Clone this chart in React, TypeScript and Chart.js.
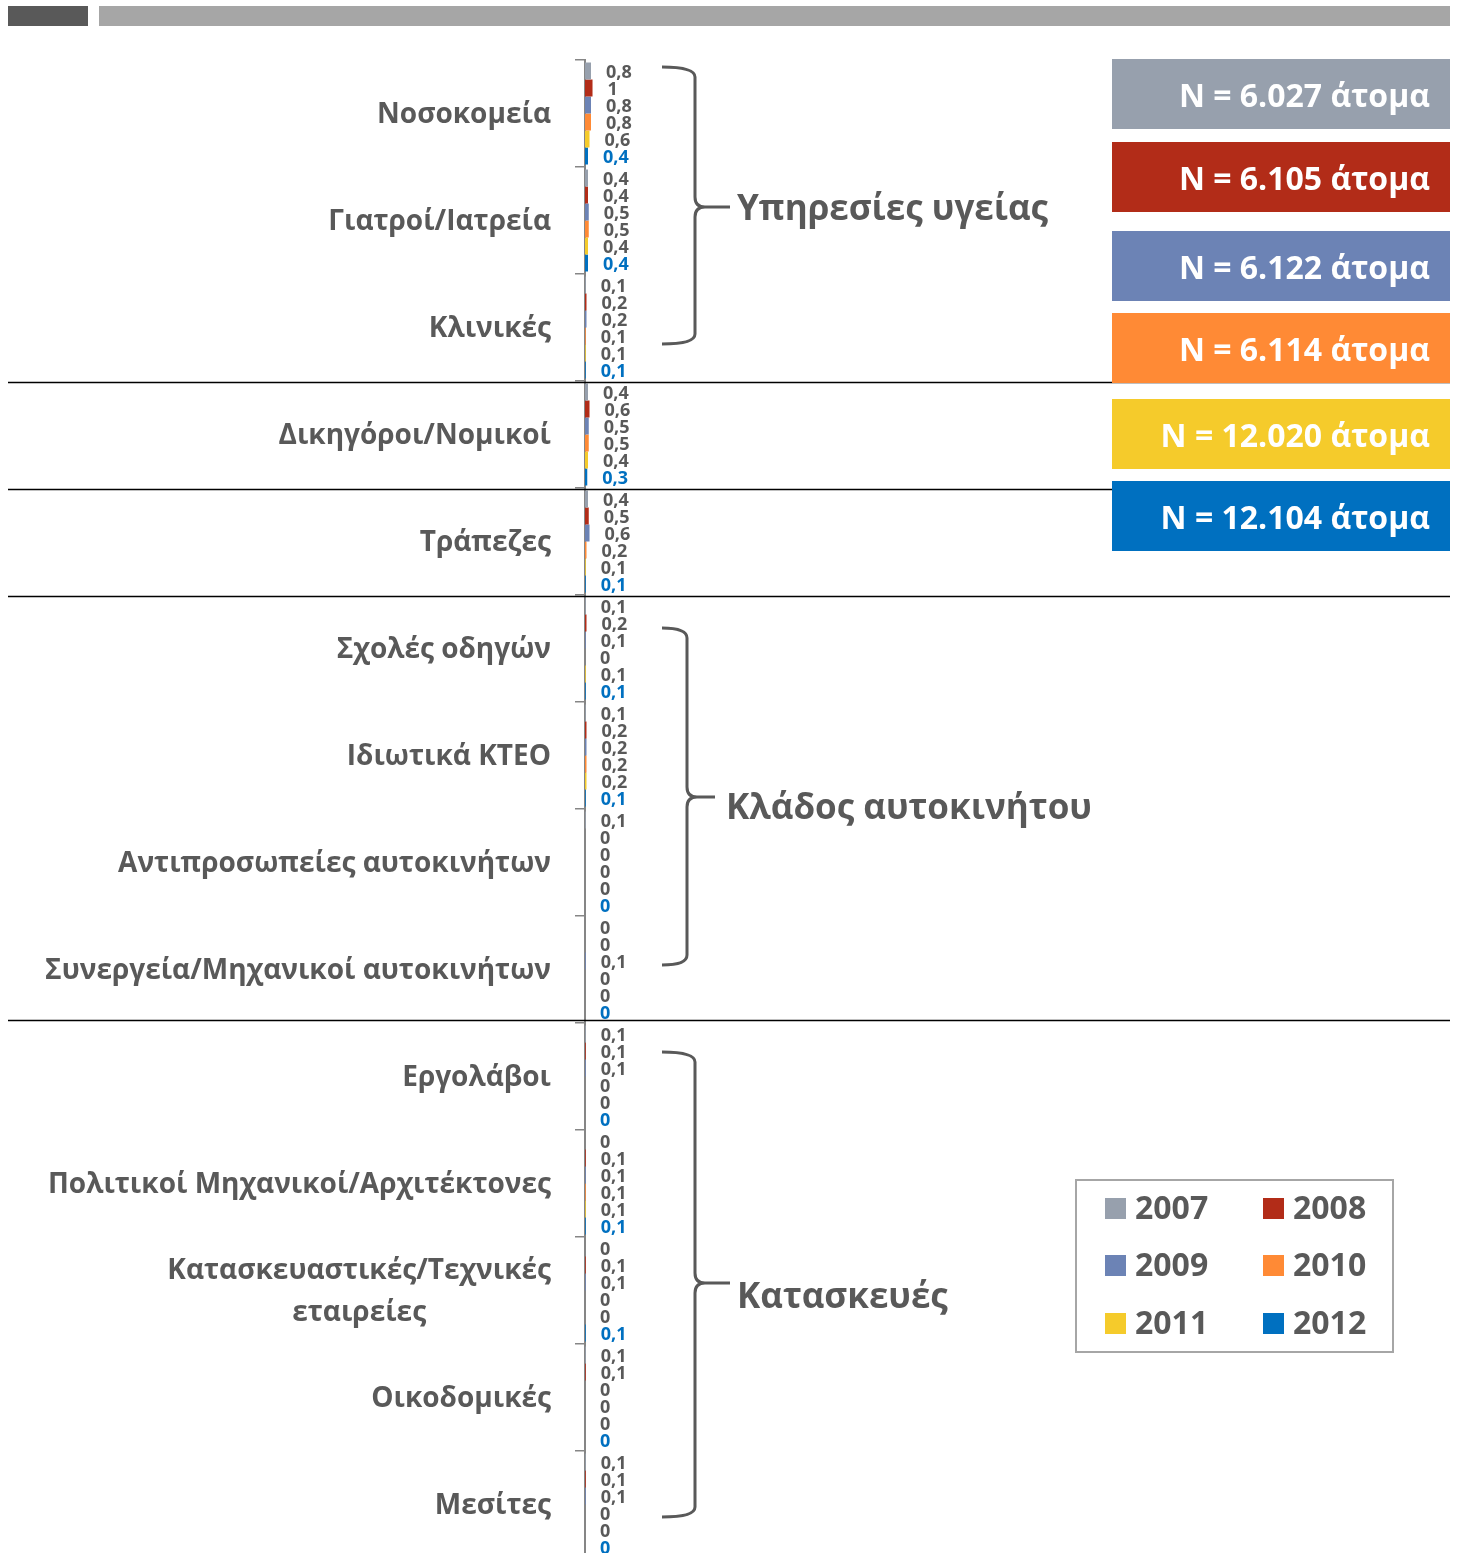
import React, { useEffect, useRef } from "react";
import { Chart, registerables } from "chart.js";

Chart.register(...registerables);

const categories: (string | string[])[] = [
  "Νοσοκομεία",
  "Γιατροί/Ιατρεία",
  "Κλινικές",
  "Δικηγόροι/Νομικοί",
  "Τράπεζες",
  "Σχολές οδηγών",
  "Ιδιωτικά ΚΤΕΟ",
  "Αντιπροσωπείες αυτοκινήτων",
  "Συνεργεία/Μηχανικοί αυτοκινήτων",
  "Εργολάβοι",
  "Πολιτικοί Μηχανικοί/Αρχιτέκτονες",
  ["Κατασκευαστικές/Τεχνικές", "εταιρείες"],
  "Οικοδομικές",
  "Μεσίτες",
];

const years = ["2007", "2008", "2009", "2010", "2011", "2012"];

const v2007 = [0.8, 0.4, 0.1, 0.4, 0.4, 0.1, 0.1, 0.1, 0, 0.1, 0, 0, 0.1, 0.1];
const v2008 = [1, 0.4, 0.2, 0.6, 0.5, 0.2, 0.2, 0, 0, 0.1, 0.1, 0.1, 0.1, 0.1];
const v2009 = [0.8, 0.5, 0.2, 0.5, 0.6, 0.1, 0.2, 0, 0.1, 0.1, 0.1, 0.1, 0, 0.1];
const v2010 = [0.8, 0.5, 0.1, 0.5, 0.2, 0, 0.2, 0, 0, 0, 0.1, 0, 0, 0];
const v2011 = [0.6, 0.4, 0.1, 0.4, 0.1, 0.1, 0.2, 0, 0, 0, 0.1, 0, 0, 0];
const v2012 = [0.4, 0.4, 0.1, 0.3, 0.1, 0.1, 0.1, 0, 0, 0, 0.1, 0.1, 0, 0];

const seriesValues = [v2007, v2008, v2009, v2010, v2011, v2012];
const seriesColors = ["#97a0ad", "#b22c18", "#6c83b5", "#ff8a35", "#f5cb2b", "#0070c0"];

const sampleSizes = [
  "N = 6.027 άτομα",
  "N = 6.105 άτομα",
  "N = 6.122 άτομα",
  "N = 6.114 άτομα",
  "N = 12.020 άτομα",
  "N = 12.104 άτομα",
];

const groupLabels = ["Υπηρεσίες υγείας", "Κλάδος αυτοκινήτου", "Κατασκευές"];
const separatorsAfter = [2, 3, 4, 8];

const FONT = '"Open Sans", "Noto Sans", sans-serif';
const TEXT = "#595959";

function fmt(v: number) {
  return String(v).replace(".", ",");
}

function drawBrace(
  ctx: CanvasRenderingContext2D,
  xL: number,
  xV: number,
  xTip: number,
  yTop: number,
  yMid: number,
  yBot: number
) {
  const r = 10;
  ctx.beginPath();
  ctx.moveTo(xL, yTop);
  ctx.quadraticCurveTo(xV, yTop, xV, yTop + r);
  ctx.lineTo(xV, yMid - r);
  ctx.quadraticCurveTo(xV, yMid, xV + r, yMid);
  ctx.lineTo(xTip, yMid);
  ctx.moveTo(xV + r, yMid);
  ctx.quadraticCurveTo(xV, yMid, xV, yMid + r);
  ctx.lineTo(xV, yBot - r);
  ctx.quadraticCurveTo(xV, yBot, xL, yBot);
  ctx.stroke();
}

const decorPlugin = {
  id: "decor",
  afterDatasetsDraw(chart: any) {
    const ctx: CanvasRenderingContext2D = chart.ctx;
    ctx.save();
    ctx.font = `bold 18px ${FONT}`;
    ctx.textAlign = "left";
    ctx.textBaseline = "middle";
    chart.data.datasets.forEach((ds: any, di: number) => {
      const meta = chart.getDatasetMeta(di);
      ctx.fillStyle = di === chart.data.datasets.length - 1 ? "#0070c0" : TEXT;
      meta.data.forEach((el: any, i: number) => {
        ctx.fillText(fmt(ds.data[i]), el.x + 15, el.y + 2);
      });
    });
    ctx.restore();
  },
  afterDraw(chart: any) {
    const ctx: CanvasRenderingContext2D = chart.ctx;
    const y = chart.scales.y;
    ctx.save();

    // top header bars
    ctx.fillStyle = "#595959";
    ctx.fillRect(8, 6, 80, 20);
    ctx.fillStyle = "#a6a6a6";
    ctx.fillRect(99, 6, 1351, 20);

    // separators
    ctx.strokeStyle = "#000000";
    ctx.lineWidth = 1.5;
    separatorsAfter.forEach((i) => {
      const yy = Math.round((y.getPixelForValue(i) + y.getPixelForValue(i + 1)) / 2) + (i === 8 ? -2.5 : 1.5);
      ctx.beginPath();
      ctx.moveTo(8, yy);
      ctx.lineTo(1450, yy);
      ctx.stroke();
    });

    // category labels
    ctx.font = `bold 28px ${FONT}`;
    ctx.fillStyle = TEXT;
    ctx.textBaseline = "middle";
    ctx.textAlign = "center";
    categories.forEach((c, i) => {
      const lines = Array.isArray(c) ? c : [c];
      const maxW = Math.max(...lines.map((l) => ctx.measureText(l).width));
      const cx = 551 - maxW / 2;
      const cy = y.getPixelForValue(i) + 2;
      const lh = 42;
      lines.forEach((l, k) => {
        ctx.fillText(l, cx, cy + (k - (lines.length - 1) / 2) * lh);
      });
    });

    // sample size boxes
    const boxTops = [59, 142, 231, 313, 399, 481];
    ctx.font = `bold 32px ${FONT}`;
    ctx.textAlign = "right";
    sampleSizes.forEach((s, i) => {
      ctx.fillStyle = seriesColors[i];
      ctx.fillRect(1112, boxTops[i], 338, 70);
      ctx.fillStyle = "#ffffff";
      ctx.fillText(s, 1430, boxTops[i] + 39);
    });

    // braces
    ctx.strokeStyle = TEXT;
    ctx.lineWidth = 3;
    drawBrace(ctx, 662, 695, 730, 67, 207, 344);
    drawBrace(ctx, 662, 687, 715, 628, 797, 965);
    drawBrace(ctx, 662, 695, 730, 1052, 1283, 1517);
    ctx.fillStyle = TEXT;
    ctx.font = `bold 35px ${FONT}`;
    ctx.textAlign = "left";
    ctx.fillText(groupLabels[0], 737, 210);
    ctx.fillText(groupLabels[1], 726, 809);
    ctx.fillText(groupLabels[2], 737, 1298);

    // legend
    ctx.strokeStyle = "#a6a6a6";
    ctx.lineWidth = 2;
    ctx.strokeRect(1076, 1180, 317, 172);
    const colX = [1105, 1263];
    const rowY = [1208, 1265, 1323];
    ctx.font = `bold 32px ${FONT}`;
    years.forEach((yr, i) => {
      const cx = colX[i % 2];
      const cy = rowY[Math.floor(i / 2)];
      ctx.fillStyle = seriesColors[i];
      ctx.fillRect(cx, cy - 10, 21, 21);
      ctx.fillStyle = TEXT;
      ctx.fillText(yr, cx + 30, cy + 2);
    });

    ctx.restore();
  },
};

export default function App() {
  const ref = useRef<HTMLCanvasElement | null>(null);

  useEffect(() => {
    if (!ref.current) return;
    const chart = new Chart(ref.current, {
      type: "bar",
      data: {
        labels: categories.map((c) => (Array.isArray(c) ? c.join(" ") : c)),
        datasets: years.map((yr, i) => ({
          label: yr,
          data: seriesValues[i],
          backgroundColor: seriesColors[i],
          borderWidth: 0,
          barPercentage: 1,
          categoryPercentage: 102 / 107,
        })),
      },
      options: {
        indexAxis: "y",
        animation: false,
        responsive: false,
        devicePixelRatio: 1,
        layout: { padding: { left: 575, top: 60, right: 7, bottom: 2 } },
        plugins: {
          legend: { display: false },
          tooltip: { enabled: false },
        },
        scales: {
          x: { display: false, min: 0, max: 115 },
          y: {
            display: true,
            ticks: { display: false },
            grid: {
              drawOnChartArea: false,
              drawTicks: true,
              tickLength: 10,
              color: "#868686",
              lineWidth: 1.5,
              offset: true,
            },
            border: { display: true, color: "#868686", width: 2 },
            afterFit: (s: any) => {
              s.width = 10;
            },
          },
        },
      },
      plugins: [decorPlugin],
    } as any);
    return () => chart.destroy();
  }, []);

  return (
    <div
      style={{
        position: "absolute",
        left: 0,
        top: 0,
        width: 1457,
        height: 1553,
        overflow: "hidden",
        background: "#ffffff",
      }}
    >
      <canvas ref={ref} width={1457} height={1560} style={{ display: "block" }} />
    </div>
  );
}
